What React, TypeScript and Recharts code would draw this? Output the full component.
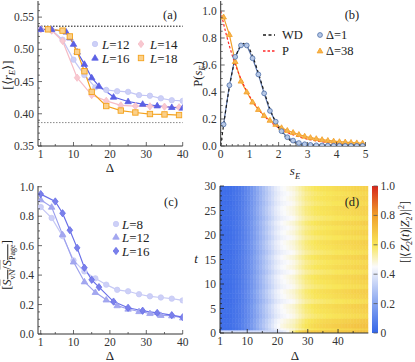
import React from 'react';
import { LineChart, Line, BarChart, Bar, Cell, XAxis, YAxis, ReferenceLine } from 'recharts';

const SERIF = "'Liberation Serif', 'Times New Roman', serif";
const INK = '#333';
const FRAME = '#8c8c8c';
const M = 3;

// (a) mean gap ratio vs disorder
const A_GOE = 0.5359;
const A_POI = 0.3863;
const A_L12_D = [1, 4, 7, 10, 13, 16, 19, 22, 25, 28, 31, 34, 37, 40];
const A_L12 = [0.531, 0.530, 0.515, 0.484, 0.460, 0.441, 0.437, 0.435, 0.434, 0.429, 0.428, 0.424, 0.421, 0.420];
const A_L14_D = [1, 4, 7, 11, 15, 19, 23, 27, 31, 35, 39];
const A_L14 = [0.531, 0.529, 0.513, 0.456, 0.429, 0.420, 0.413, 0.412, 0.4115, 0.411, 0.410];
const A_L16_D = [1, 4, 8, 9, 10, 11, 13, 15, 17, 21, 25, 29, 33, 37, 40];
const A_L16 = [0.531, 0.531, 0.527, 0.518, 0.508, 0.496, 0.477, 0.456, 0.443, 0.426, 0.419, 0.415, 0.4125, 0.410, 0.409];
const A_L18_D = [3, 7, 9, 11, 13, 15, 19, 23, 27, 31, 35, 39];
const A_L18 = [0.531, 0.529, 0.520, 0.496, 0.466, 0.434, 0.412, 0.405, 0.402, 0.3996, 0.399, 0.398];

// (b) level spacing distribution
const B_S = [0.1, 0.3, 0.5, 0.7, 0.9, 1.1, 1.3, 1.5, 1.7, 1.9, 2.1, 2.3, 2.5, 2.7, 2.9, 3.1, 3.3, 3.5, 3.7, 3.9, 4.1, 4.3, 4.5, 4.7, 4.9];
const B_D1 = [0.16, 0.45, 0.66, 0.745, 0.745, 0.65, 0.53, 0.39, 0.26, 0.18, 0.11, 0.065, 0.04, 0.022, 0.013, 0.008, 0.005, 0.004, 0.003, 0.002, 0.002, 0.001, 0.001, 0.001, 0.001];
const B_D38 = [0.955, 0.825, 0.625, 0.48, 0.40, 0.325, 0.27, 0.225, 0.19, 0.16, 0.135, 0.115, 0.10, 0.085, 0.072, 0.062, 0.054, 0.047, 0.041, 0.036, 0.032, 0.029, 0.026, 0.023, 0.021];
const B_TH_S = [0, 0.1, 0.2, 0.3, 0.4, 0.5, 0.6, 0.7, 0.8, 0.9, 1.0, 1.1, 1.2, 1.3, 1.4, 1.5, 1.6, 1.7, 1.8, 1.9, 2.0, 2.2, 2.4, 2.6, 2.8, 3.0, 3.5, 4.0, 4.5, 5.0];
const B_WD = [0, 0.156, 0.303, 0.437, 0.553, 0.648, 0.711, 0.748, 0.760, 0.748, 0.716, 0.668, 0.608, 0.542, 0.472, 0.403, 0.337, 0.276, 0.222, 0.175, 0.136, 0.077, 0.041, 0.020, 0.009, 0.004, 0.0004, 0, 0, 0];
const B_P = [1, 0.905, 0.819, 0.741, 0.670, 0.607, 0.549, 0.497, 0.449, 0.407, 0.368, 0.333, 0.301, 0.273, 0.247, 0.223, 0.202, 0.183, 0.165, 0.150, 0.135, 0.111, 0.091, 0.074, 0.061, 0.050, 0.030, 0.018, 0.011, 0.0067];

// (c) normalised entanglement entropy
const C_L8_D = [1, 4, 7, 10, 13, 16, 19, 22, 25, 28, 31, 34, 37, 40];
const C_L8 = [0.862, 0.788, 0.665, 0.50, 0.425, 0.378, 0.335, 0.300, 0.290, 0.270, 0.256, 0.248, 0.240, 0.228];
const C_L12_D = [1, 4, 7, 10, 13, 16, 19, 22, 25, 28, 31, 34, 37, 40];
const C_L12 = [0.912, 0.862, 0.675, 0.490, 0.355, 0.283, 0.232, 0.193, 0.170, 0.153, 0.140, 0.127, 0.124, 0.110];
const C_L16_D = [1, 5, 7, 9, 11, 13, 15, 17, 21, 25, 29, 33, 37, 40];
const C_L16 = [0.950, 0.900, 0.820, 0.705, 0.585, 0.450, 0.368, 0.318, 0.220, 0.178, 0.158, 0.143, 0.128, 0.114];

// (d) fidelity heatmap: one column per Delta (cell spans Delta..Delta+1), rows in t
const D_DELTA = [1, 2, 3, 4, 5, 6, 7, 8, 9, 10, 11, 12, 13, 14, 15, 16, 17, 18, 19, 20, 21, 22, 23, 24, 25, 26, 27, 28, 29, 30, 31, 32, 33, 34, 35, 36, 37, 38, 39, 40, 41, 42, 43, 44, 45, 46, 47, 48, 49];
const D_COL = [0.03, 0.03, 0.03, 0.03, 0.04, 0.05, 0.06, 0.08, 0.10, 0.12, 0.15, 0.18, 0.21, 0.24, 0.27, 0.30, 0.33, 0.36, 0.39, 0.41, 0.43, 0.44, 0.45, 0.46, 0.47, 0.49, 0.51, 0.53, 0.55, 0.56, 0.57, 0.58, 0.585, 0.59, 0.595, 0.60, 0.60, 0.605, 0.61, 0.61, 0.615, 0.62, 0.62, 0.625, 0.63, 0.63, 0.635, 0.64, 0.64];
const D_STRIP = [0.36, 0.36, 0.36, 0.36, 0.36, 0.36, 0.36, 0.36, 0.36, 0.36, 0.36, 0.36, 0.36, 0.36, 0.36, 0.36, 0.36, 0.36, 0.37, 0.38, 0.40, 0.42, 0.45, 0.50, 0.55, 0.60, 0.64, 0.66, 0.68, 0.68, 0.68, 0.68, 0.68, 0.68, 0.68, 0.68, 0.68, 0.68, 0.68, 0.68, 0.69, 0.69, 0.69, 0.69, 0.70, 0.70, 0.70, 0.70, 0.70];
const D_T_EDGES = [0, 0.6, 1, 2, 3, 4, 5, 6, 7, 8, 9, 10, 11, 12, 13, 14, 15, 16, 17, 18, 19, 20, 21, 22, 23, 24, 25, 26, 27, 28, 29, 30];
const D_ROW_OFFSET = [0.04, 0.10, 0.07, 0.0, 0.03, 0.05, -0.02, 0.03, 0.05, -0.01, 0.02, 0.04, -0.02, 0.03, 0.0, 0.04, -0.02, 0.02, 0.04, -0.01, 0.03, 0.0, 0.04, -0.02, 0.02, 0.03, -0.01, 0.02, 0.0, 0.03];

const CMAP_STOPS = [0, 0.2, 0.45, 0.6, 0.8, 1];
const CMAP_RGB = [[52, 102, 232], [135, 165, 240], [250, 250, 252], [248, 230, 90], [240, 160, 45], [214, 38, 28]];

function cmap(v: number) {
  const x = Math.max(0, Math.min(1, v));
  let i = 0;
  while (i < CMAP_STOPS.length - 2 && x > CMAP_STOPS[i + 1]) i++;
  const t = (x - CMAP_STOPS[i]) / (CMAP_STOPS[i + 1] - CMAP_STOPS[i]);
  const c = CMAP_RGB[i].map((a, j) => Math.round(a + (CMAP_RGB[i + 1][j] - a) * t));
  return `rgb(${c.join(',')})`;
}

const range = (a: number, b: number, step: number) => {
  const out: number[] = [];
  for (let v = a; v <= b + 1e-9; v += step) out.push(Math.round(v * 1000) / 1000);
  return out;
};

const zip = (xs: number[], ys: number[]) => xs.map((x, i) => ({ x, y: ys[i] }));

type Side = 'left' | 'bottom' | 'top' | 'right';
const TICK_TEXT = { fontFamily: SERIF, fontSize: 11.5, fill: '#333' };

function mkTick(side: Side, majors: number[], fmt: ((v: number) => string) | null, color = '#444', margin = M) {
  return (p: any) => {
    const v = Number(p.payload?.value);
    const major = majors.some((m) => Math.abs(m - v) < 1e-6);
    const len = major ? 4 : 2;
    const show = !!fmt && major;
    if (side === 'left') {
      const ax = p.x + margin;
      return (
        <g>
          <line x1={ax} x2={ax + len} y1={p.y} y2={p.y} stroke={color} strokeWidth={0.8} />
          {show && <text x={p.x - 1} y={p.y} dy="0.35em" textAnchor="end" {...TICK_TEXT}>{fmt!(v)}</text>}
        </g>
      );
    }
    if (side === 'right') {
      const ax = p.x - margin;
      return (
        <g>
          <line x1={ax} x2={ax - len} y1={p.y} y2={p.y} stroke={color} strokeWidth={0.8} />
          {show && <text x={p.x} y={p.y} dy="0.35em" textAnchor="start" {...TICK_TEXT}>{fmt!(v)}</text>}
        </g>
      );
    }
    if (side === 'bottom') {
      const ay = p.y - margin;
      return (
        <g>
          <line x1={p.x} x2={p.x} y1={ay} y2={ay - len} stroke={color} strokeWidth={0.8} />
          {show && <text x={p.x} y={p.y} dy="0.74em" textAnchor="middle" {...TICK_TEXT}>{fmt!(v)}</text>}
        </g>
      );
    }
    const ay = p.y + margin;
    return (
      <g>
        <line x1={p.x} x2={p.x} y1={ay} y2={ay + len} stroke={color} strokeWidth={0.8} />
      </g>
    );
  };
}

function Marker({ cx, cy, shape, fill, stroke, size = 3 }: any) {
  if (cx == null || cy == null) return null;
  const s = size;
  if (shape === 'circle') return <circle cx={cx} cy={cy} r={s} fill={fill} stroke={stroke} strokeWidth={0.8} />;
  if (shape === 'square') return <rect x={cx - s} y={cy - s} width={2 * s} height={2 * s} fill={fill} stroke={stroke} strokeWidth={0.9} />;
  if (shape === 'triangle')
    return <polygon points={`${cx},${cy - s * 1.25} ${cx - s * 1.2},${cy + s * 0.8} ${cx + s * 1.2},${cy + s * 0.8}`} fill={fill} stroke={stroke} strokeWidth={0.8} />;
  return <polygon points={`${cx},${cy - s * 1.35} ${cx + s * 1.05},${cy} ${cx},${cy + s * 1.35} ${cx - s * 1.05},${cy}`} fill={fill} stroke={stroke} strokeWidth={0.8} />;
}

function Lbl({ x, y, size = 12, rotate = false, anchor = 'middle', children }: any) {
  const tx = anchor === 'start' ? '0' : '-50%';
  return (
    <div
      style={{
        position: 'absolute',
        left: x,
        top: y,
        transform: `translate(${tx}, -50%)${rotate ? ' rotate(-90deg)' : ''}`,
        whiteSpace: 'nowrap',
        fontSize: size,
        lineHeight: 1,
        color: '#222',
        fontFamily: SERIF,
      }}
    >
      {children}
    </div>
  );
}

function LegendSym({ x, y, shape, fill, stroke, size = 3, dash }: any) {
  return (
    <svg style={{ position: 'absolute', left: x - 8, top: y - 6, overflow: 'visible' }} width={16} height={12}>
      {dash ? (
        <line x1={0} x2={12} y1={6} y2={6} stroke={stroke} strokeWidth={1.3} strokeDasharray={dash} />
      ) : (
        <Marker cx={8} cy={6} shape={shape} fill={fill} stroke={stroke} size={size} />
      )}
    </svg>
  );
}

const fmtInt = (v: number) => String(Math.round(v));

const A_SERIES = [
  { key: 'a12', d: A_L12_D, v: A_L12, color: '#c3c6f4', fill: '#cdd0f7', shape: 'circle' },
  { key: 'a14', d: A_L14_D, v: A_L14, color: '#f6bcc6', fill: '#f8c8d0', shape: 'diamond' },
  { key: 'a16', d: A_L16_D, v: A_L16, color: '#5a60e4', fill: '#5a60e4', shape: 'triangle' },
  { key: 'a18', d: A_L18_D, v: A_L18, color: '#f4a21c', fill: '#fbd08a', shape: 'square' },
];

const C_SERIES = [
  { key: 'c8', d: C_L8_D, v: C_L8, color: '#c6c9f5', fill: '#cdd0f7', shape: 'circle' },
  { key: 'c12', d: C_L12_D, v: C_L12, color: '#9da1ee', fill: '#a3a7f0', shape: 'triangle' },
  { key: 'c16', d: C_L16_D, v: C_L16, color: '#6a70e8', fill: '#7a80ea', shape: 'diamond' },
];

function DeltaPanel({ top, height, plotTop, plotBottom, yDomain, yTicks, yMajors, yFmt, series, refs }: any) {
  const xMaj = [1, 10, 20, 30, 40];
  const xTicks = [1, 5, 10, 15, 20, 25, 30, 35, 40];
  return (
    <div style={{ position: 'absolute', left: 0, top }}>
      <LineChart width={200} height={height} margin={{ top: plotTop - top, right: 17.3, bottom: 0, left: 0 }}>
        <XAxis type="number" dataKey="x" domain={[0.25, 40]} allowDataOverflow ticks={xTicks} interval={0}
          height={top + height - plotBottom} tickSize={0} tickMargin={M} tickLine={false}
          axisLine={{ stroke: INK }} tick={mkTick('bottom', xMaj, fmtInt)} />
        <YAxis type="number" domain={yDomain} allowDataOverflow ticks={yTicks} interval={0} width={38}
          tickSize={0} tickMargin={M} tickLine={false} axisLine={{ stroke: INK }} tick={mkTick('left', yMajors, yFmt)} />
        <XAxis xAxisId="top" orientation="top" type="number" domain={[0.25, 40]} allowDataOverflow height={0}
          tick={false} tickLine={false} axisLine={{ stroke: FRAME, strokeWidth: 1.5 }} />
        <YAxis yAxisId="right" orientation="right" type="number" domain={yDomain} allowDataOverflow width={0}
          tick={false} tickLine={false} axisLine={{ stroke: FRAME, strokeWidth: 1.5 }} />
        {refs}
        {series.map((s: any) => (
          <Line key={s.key} data={zip(s.d, s.v)} dataKey="y" stroke={s.color} strokeWidth={1.2}
            isAnimationActive={false}
            dot={(p: any) => <Marker key={p.index} cx={p.cx} cy={p.cy} shape={s.shape} fill={s.fill} stroke={s.color} size={2.7} />} />
        ))}
      </LineChart>
    </div>
  );
}

function PanelB() {
  const xMaj = [0, 1, 2, 3, 4, 5];
  const xTicks = range(0, 5, 0.2);
  const yMaj = [0, 0.2, 0.4, 0.6, 0.8, 1.0];
  const yTicks = range(0, 1.05, 0.05);
  const dom: [number, number] = [0, 1.074];
  return (
    <div style={{ position: 'absolute', left: 195, top: 0 }}>
      <LineChart width={185} height={180} margin={{ top: 1, right: 14.5, bottom: 0, left: 0 }}>
        <XAxis type="number" dataKey="x" domain={[0, 5]} allowDataOverflow ticks={xTicks} interval={0} height={34}
          tickSize={0} tickMargin={M} tickLine={false} axisLine={{ stroke: INK }} tick={mkTick('bottom', xMaj, fmtInt)} />
        <YAxis type="number" domain={dom} allowDataOverflow ticks={yTicks} interval={0} width={25.7}
          tickSize={0} tickMargin={M} tickLine={false} axisLine={{ stroke: INK }} tick={mkTick('left', yMaj, (v) => v.toFixed(1))} />
        <XAxis xAxisId="top" orientation="top" type="number" domain={[0, 5]} allowDataOverflow height={0} ticks={xTicks}
          interval={0} tickSize={0} tickMargin={M} tickLine={false} axisLine={{ stroke: INK }} tick={mkTick('top', xMaj, null)} />
        <YAxis yAxisId="right" orientation="right" type="number" domain={dom} allowDataOverflow width={0} ticks={yTicks}
          interval={0} tickSize={0} tickMargin={M} tickLine={false} axisLine={{ stroke: INK }} tick={mkTick('right', yMaj, null)} />
        <Line data={zip(B_S, B_D38)} dataKey="y" stroke="#f2a028" strokeWidth={1.2} isAnimationActive={false}
          dot={(p: any) => <Marker key={p.index} cx={p.cx} cy={p.cy} shape="triangle" fill="#f7b54c" stroke="#f2a028" size={2.4} />} />
        <Line data={zip(B_S, B_D1)} dataKey="y" stroke="#5872a8" strokeWidth={1.2} isAnimationActive={false}
          dot={(p: any) => <Marker key={p.index} cx={p.cx} cy={p.cy} shape="circle" fill="#b7c8e6" stroke="#4d6ea8" size={2.4} />} />
        <Line data={zip(B_TH_S, B_P)} dataKey="y" stroke="#ff2a2a" strokeWidth={1.2} strokeDasharray="2.5 2" dot={false} isAnimationActive={false} />
        <Line data={zip(B_TH_S, B_WD)} dataKey="y" stroke="#1a1a1a" strokeWidth={1.2} strokeDasharray="3 2.5" dot={false} isAnimationActive={false} />
      </LineChart>
    </div>
  );
}

function PanelD() {
  const rows = D_T_EDGES.slice(1).map((t, k) => ({ key: 'h' + k, h: t - D_T_EDGES[k] }));
  // each column is centred on the middle of its Delta cell
  const data = D_DELTA.map((d) => {
    const o: any = { mid: d + 0.5 };
    rows.forEach((r) => (o[r.key] = r.h));
    return o;
  });
  const cellValue = (k: number, i: number) => (k === 0 ? D_STRIP[i] : D_COL[i] * (1 + D_ROW_OFFSET[k - 1]));
  const xMaj = [1, 10, 20, 30, 40];
  const xTicks = [1, 5, 10, 15, 20, 25, 30, 35, 40, 45];
  const yMaj = range(0, 30, 5);
  const yTicks = range(0, 30, 1);
  return (
    <>
      <div style={{ position: 'absolute', left: 195, top: 180 }}>
        <BarChart width={185} height={180} data={data} barCategoryGap={0} barGap={0}
          margin={{ top: 6, right: 11.7, bottom: 27, left: 25 }}>
          <XAxis type="number" dataKey="mid" domain={[1, 50]} allowDataOverflow hide />
          <YAxis type="number" domain={[0, 30]} allowDataOverflow hide />
          {rows.map((r, k) => (
            <Bar key={r.key} dataKey={r.key} stackId="hm" isAnimationActive={false}>
              {D_DELTA.map((d, i) => {
                const c = cmap(cellValue(k, i));
                return <Cell key={d} fill={c} stroke={c} strokeWidth={0.6} />;
              })}
            </Bar>
          ))}
        </BarChart>
      </div>
      <div style={{ position: 'absolute', left: 195, top: 180 }}>
        <LineChart width={185} height={180} margin={{ top: 6, right: 11.7, bottom: 0, left: 0 }}>
          <XAxis type="number" dataKey="x" domain={[1, 50]} allowDataOverflow ticks={xTicks} interval={0} height={27}
            tickSize={0} tickMargin={M} tickLine={false} axisLine={{ stroke: INK }} tick={mkTick('bottom', xMaj, fmtInt, '#222')} />
          <YAxis type="number" domain={[0, 30]} allowDataOverflow ticks={yTicks} interval={0} width={25}
            tickSize={0} tickMargin={M} tickLine={false} axisLine={{ stroke: INK }} tick={mkTick('left', yMaj, fmtInt, '#222')} />
          <XAxis xAxisId="top" orientation="top" type="number" domain={[1, 50]} allowDataOverflow height={0} ticks={xTicks}
            interval={0} tickSize={0} tickMargin={M} tickLine={false} axisLine={{ stroke: INK }} tick={mkTick('top', xMaj, null, '#222')} />
          <YAxis yAxisId="right" orientation="right" type="number" domain={[0, 30]} allowDataOverflow width={0} ticks={yTicks}
            interval={0} tickSize={0} tickMargin={M} tickLine={false} axisLine={{ stroke: INK }} tick={mkTick('right', yMaj, null, '#222')} />
          <Line data={[]} dataKey="y" stroke="none" dot={false} isAnimationActive={false} />
        </LineChart>
      </div>
    </>
  );
}

const CBAR_DATA = [{ k: 'bar', v: 1 }];

function ColorBar() {
  const ticks = [0, 0.2, 0.4, 0.6, 0.8, 1.0];
  return (
    <div style={{ position: 'absolute', left: 371.5, top: 180 }}>
      <BarChart width={43.5} height={160} data={CBAR_DATA} barCategoryGap={0} margin={{ top: 6, right: 0, bottom: 7, left: 0 }}>
        <defs>
          <linearGradient id="cbar" x1="0" y1="1" x2="0" y2="0">
            {CMAP_STOPS.map((s, i) => (
              <stop key={s} offset={s} stopColor={`rgb(${CMAP_RGB[i].join(',')})`} />
            ))}
          </linearGradient>
        </defs>
        <XAxis dataKey="k" type="category" hide height={0} />
        <YAxis orientation="right" type="number" domain={[0, 1]} allowDataOverflow ticks={ticks} interval={0} width={38}
          tickSize={0} tickMargin={3} tickLine={false} axisLine={false}
          tick={mkTick('right', ticks, (v) => (v === 0 ? '0' : v.toFixed(1)), '#555', 3)} />
        <Bar dataKey="v" fill="url(#cbar)" isAnimationActive={false} />
      </BarChart>
    </div>
  );
}

export default function App() {
  return (
    <div style={{ position: 'absolute', left: 0, top: 0, width: 415, height: 362, background: '#fff', overflow: 'hidden', fontFamily: SERIF }}>
      <DeltaPanel top={0} height={180} plotTop={1} plotBottom={146} yDomain={[0.35, 0.575]}
        yTicks={range(0.35, 0.57, 0.01)} yMajors={[0.35, 0.4, 0.45, 0.5, 0.55]} yFmt={(v: number) => v.toFixed(2)}
        series={A_SERIES}
        refs={[
          <ReferenceLine key="goe" y={A_GOE} stroke="#111" strokeDasharray="1.5 1.5" />,
          <ReferenceLine key="poi" y={A_POI} stroke="#888" strokeDasharray="1.5 1.5" />,
        ]} />
      <PanelB />
      <DeltaPanel top={180} height={180} plotTop={186} plotBottom={334} yDomain={[0, 1.005]}
        yTicks={range(0, 1, 0.05)} yMajors={[0, 0.2, 0.4, 0.6, 0.8, 1.0]} yFmt={(v: number) => v.toFixed(1)}
        series={C_SERIES} refs={null} />
      <PanelD />
      <ColorBar />

      {/* axis titles */}
      <Lbl x={9} y={75} size={13} rotate>[⟨<i>r</i><sub style={{ fontSize: 9 }}><i>E</i></sub>⟩]</Lbl>
      <Lbl x={110} y={167} size={13}>Δ</Lbl>
      <Lbl x={199} y={74} size={12.5} rotate>P(<i>s</i><sub style={{ fontSize: 8.5 }}><i>E</i></sub>)</Lbl>
      <Lbl x={295} y={172} size={13}><i>s</i><sub style={{ fontSize: 8.5 }}><i>E</i></sub></Lbl>
      <Lbl x={9} y={265} size={12.5} rotate>
        [<span style={{ textDecoration: 'overline' }}><i>S</i><sub style={{ fontSize: 8 }}>vN</sub>/<i>S</i><sub style={{ fontSize: 8 }}>Page</sub></span>]
      </Lbl>
      <Lbl x={110} y={355} size={13}>Δ</Lbl>
      <Lbl x={196} y={258} size={13}><i>t</i></Lbl>
      <Lbl x={295} y={355} size={13}>Δ</Lbl>
      <Lbl x={406} y={232} size={12} rotate>
        [|⟨<i>Z</i><sub style={{ fontSize: 8 }}>2</sub>(<i>t</i>)|<i>Z</i><sub style={{ fontSize: 8 }}>2</sub>⟩|<sup style={{ fontSize: 8 }}>2</sup>]
      </Lbl>

      {/* panel tags */}
      <Lbl x={170} y={15} size={12.5}>(a)</Lbl>
      <Lbl x={352} y={15} size={12.5}>(b)</Lbl>
      <Lbl x={171} y={202} size={12.5}>(c)</Lbl>
      <Lbl x={352} y={202} size={12.5}>(d)</Lbl>

      {/* legend (a) */}
      <LegendSym x={95} y={44} shape="circle" fill="#cdd0f7" stroke="#c3c6f4" size={2.7} />
      <Lbl x={102} y={44} size={13} anchor="start"><i>L</i>=12</Lbl>
      <LegendSym x={141} y={44} shape="diamond" fill="#f8c8d0" stroke="#f6bcc6" size={2.7} />
      <Lbl x={150} y={44} size={13} anchor="start"><i>L</i>=14</Lbl>
      <LegendSym x={95} y={58} shape="triangle" fill="#5a60e4" stroke="#5a60e4" size={2.7} />
      <Lbl x={102} y={58} size={13} anchor="start"><i>L</i>=16</Lbl>
      <LegendSym x={141} y={58} shape="square" fill="#fbd08a" stroke="#f4a21c" size={2.7} />
      <Lbl x={150} y={58} size={13} anchor="start"><i>L</i>=18</Lbl>

      {/* legend (b) */}
      <LegendSym x={271} y={35} stroke="#1a1a1a" dash="3 2.5" />
      <Lbl x={282} y={35} size={12.5} anchor="start">WD</Lbl>
      <LegendSym x={271} y={51} stroke="#ff2a2a" dash="2.5 2" />
      <Lbl x={282} y={51} size={12.5} anchor="start">P</Lbl>
      <LegendSym x={320} y={35} shape="circle" fill="#b7c8e6" stroke="#4d6ea8" size={2.4} />
      <Lbl x={326} y={35} size={12.5} anchor="start">Δ=1</Lbl>
      <LegendSym x={320} y={51} shape="triangle" fill="#f7b54c" stroke="#f2a028" size={2.4} />
      <Lbl x={326} y={51} size={12.5} anchor="start">Δ=38</Lbl>

      {/* legend (c) */}
      <LegendSym x={116} y={223.5} shape="circle" fill="#cdd0f7" stroke="#c6c9f5" size={2.7} />
      <Lbl x={122} y={223.5} size={13} anchor="start"><i>L</i>=8</Lbl>
      <LegendSym x={116} y={237} shape="triangle" fill="#a3a7f0" stroke="#9da1ee" size={2.7} />
      <Lbl x={122} y={237} size={13} anchor="start"><i>L</i>=12</Lbl>
      <LegendSym x={116} y={250.5} shape="diamond" fill="#7a80ea" stroke="#6a70e8" size={2.7} />
      <Lbl x={122} y={250.5} size={13} anchor="start"><i>L</i>=16</Lbl>
    </div>
  );
}
